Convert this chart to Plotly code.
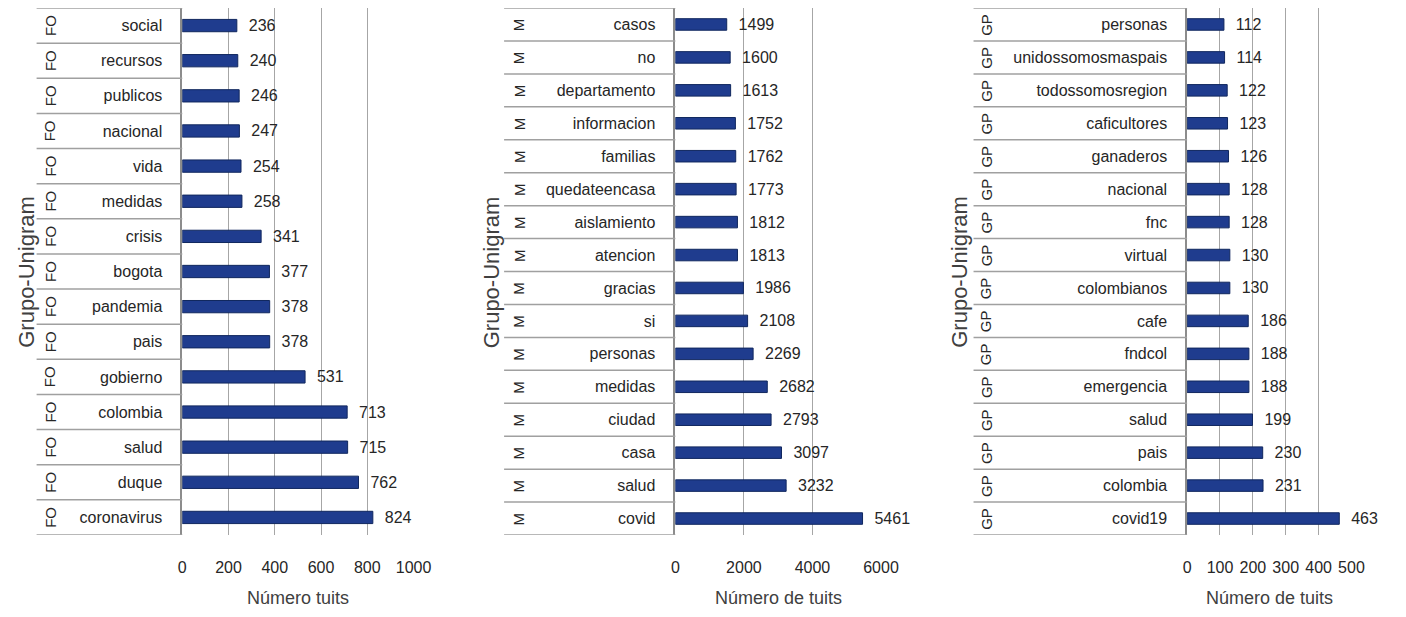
import plotly.graph_objects as go

# ---------------- data ----------------
fo_group = "FO"
fo_words = ["social", "recursos", "publicos", "nacional", "vida", "medidas", "crisis",
            "bogota", "pandemia", "pais", "gobierno", "colombia", "salud", "duque", "coronavirus"]
fo_values = [236, 240, 246, 247, 254, 258, 341, 377, 378, 378, 531, 713, 715, 762, 824]
fo_ticks = [0, 200, 400, 600, 800, 1000]
fo_xtitle = "Número tuits"

m_group = "M"
m_words = ["casos", "no", "departamento", "informacion", "familias", "quedateencasa",
           "aislamiento", "atencion", "gracias", "si", "personas", "medidas", "ciudad",
           "casa", "salud", "covid"]
m_values = [1499, 1600, 1613, 1752, 1762, 1773, 1812, 1813, 1986, 2108, 2269, 2682, 2793,
            3097, 3232, 5461]
m_ticks = [0, 2000, 4000, 6000]
m_xtitle = "Número de tuits"

gp_group = "GP"
gp_words = ["personas", "unidossomosmaspais", "todossomosregion", "caficultores", "ganaderos",
            "nacional", "fnc", "virtual", "colombianos", "cafe", "fndcol", "emergencia",
            "salud", "pais", "colombia", "covid19"]
gp_values = [112, 114, 122, 123, 126, 128, 128, 130, 130, 186, 188, 188, 199, 230, 231, 463]
gp_ticks = [0, 100, 200, 300, 400, 500]
gp_xtitle = "Número de tuits"

ytitle = "Grupo-Unigram"

# ---------------- layout constants (pixels in the 1406x617 window) ----------------
OFF = 8                      # default page body margin
W, H = 1406 - 2 * OFF, 617 - 2 * OFF
TOP_PX, BOT_PX = 8, 535
panels_px = [
    dict(table_left=33, x0=181, x1=416, ylab_x=22, group_x=47),
    dict(table_left=508, x0=682, x1=891, ylab_x=495, group_x=523),
    dict(table_left=985, x0=1202, x1=1369, ylab_x=970, group_x=998),
]

def px(x):
    return (x - OFF) / W

def py(y):
    return min(1.0, max(0.0, 1 - (y - OFF) / H))

FONT = "Liberation Sans, Arial, sans-serif"
TXT = "#262626"
GRID = "#A6A6A6"
BAR = "#1F3C8E"
BAR_LINE = "#10275E"

datasets = [
    (fo_group, fo_words, fo_values, fo_ticks, fo_xtitle),
    (m_group, m_words, m_values, m_ticks, m_xtitle),
    (gp_group, gp_words, gp_values, gp_ticks, gp_xtitle),
]

fig = go.Figure()
shapes = []
annotations = []
layout_axes = {}

for i, ((group, words, values, ticks, xtitle), p) in enumerate(zip(datasets, panels_px)):
    n = len(words)
    sfx = "" if i == 0 else str(i + 1)
    xa, ya = "x" + sfx, "y" + sfx
    fig.add_trace(go.Bar(
        x=values, y=words, orientation="h", xaxis=xa, yaxis=ya,
        width=0.35,
        marker=dict(color=BAR, line=dict(color=BAR_LINE, width=1)),
        texttemplate="\u00a0\u00a0%{x}", textposition="outside",
        constraintext="none",
        textfont=dict(family=FONT, size=16, color=TXT),
        cliponaxis=False, showlegend=False,
    ))
    layout_axes["xaxis" + sfx] = dict(
        domain=[px(p["x0"]), px(p["x1"])], anchor=ya,
        range=[ticks[0], ticks[-1]], tickvals=ticks,
        showgrid=True, gridcolor=GRID, gridwidth=1,
        zeroline=False, showline=False, ticks="",
        ticklabelstandoff=21,
        tickfont=dict(family=FONT, size=16, color=TXT),
        fixedrange=True,
    )
    layout_axes["yaxis" + sfx] = dict(
        domain=[py(BOT_PX), py(TOP_PX)], anchor=xa,
        type="category", categoryorder="array", categoryarray=words,
        range=[n - 0.5, -0.5],
        showline=True, linecolor="#8C8C8C", linewidth=1.5,
        showgrid=False, zeroline=False, ticks="",
        ticklabelstandoff=15,
        tickfont=dict(family=FONT, size=16, color=TXT),
        fixedrange=True,
    )
    # table row separators
    for k in range(n + 1):
        shapes.append(dict(type="line", xref="paper", yref=ya,
                           x0=px(p["table_left"]), x1=px(p["x0"]),
                           y0=k - 0.5, y1=k - 0.5,
                           line=dict(color="#A0A0A0", width=1.5)))
    # group labels
    for w in words:
        annotations.append(dict(xref="paper", yref=ya, x=px(p["group_x"]), y=w,
                                text=group, textangle=-90, showarrow=False,
                                xanchor="center", yanchor="middle",
                                font=dict(family=FONT, size=15, color=TXT)))
    # y title
    annotations.append(dict(xref="paper", yref="paper", x=px(p["ylab_x"]), y=py(272),
                            text=ytitle, textangle=-90, showarrow=False,
                            xanchor="center", yanchor="middle",
                            font=dict(family=FONT, size=22, color="#404040")))
    # x title
    annotations.append(dict(xref="paper", yref="paper", x=px((p["x0"] + p["x1"]) / 2), y=py(598),
                            text=xtitle, showarrow=False,
                            xanchor="center", yanchor="middle",
                            font=dict(family=FONT, size=18, color="#404040")))

fig.update_layout(
    width=W, height=H, autosize=False,
    margin=dict(l=0, r=0, t=0, b=0),
    paper_bgcolor="white", plot_bgcolor="white",
    shapes=shapes, annotations=annotations,
    **layout_axes,
)

fig.write_html("out.html")
